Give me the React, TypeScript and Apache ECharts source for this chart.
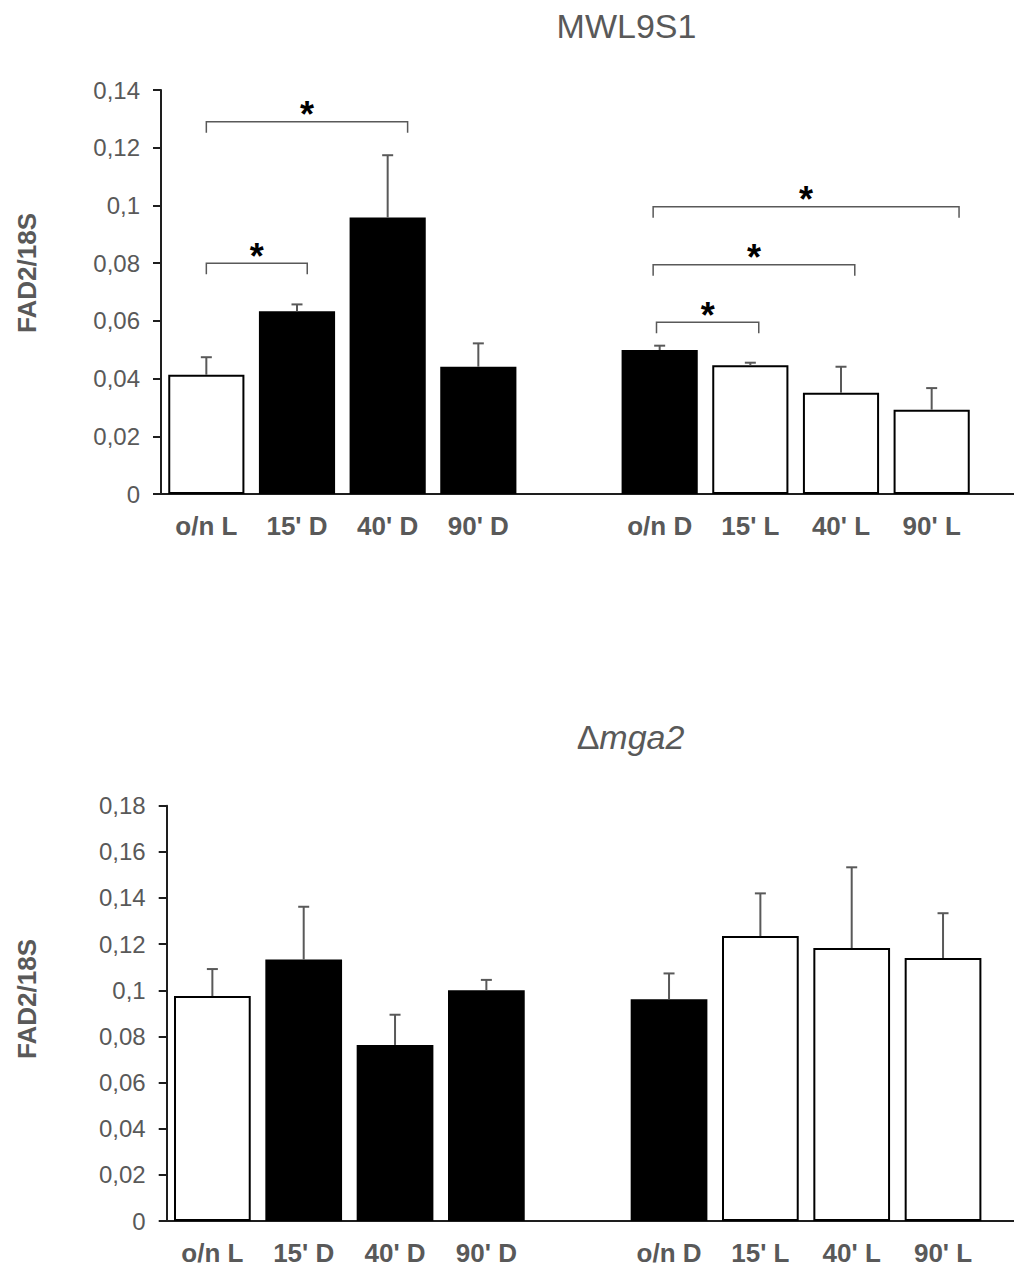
import React, { useEffect, useRef } from 'react';
import * as echarts from 'echarts';

const FONT = '"Liberation Sans", Arial, Helvetica, sans-serif';

const categories = ["o/n L", "15' D", "40' D", "90' D", "", "o/n D", "15' L", "40' L", "90' L"];
const fills = ['#ffffff', '#000000', '#000000', '#000000', 'none', '#000000', '#ffffff', '#ffffff', '#ffffff'];

const topValues = [0.0413, 0.0633, 0.0958, 0.0441, null, 0.0499, 0.0446, 0.0351, 0.0292];
const topErrors = [0.0061, 0.0024, 0.0216, 0.0081, null, 0.0015, 0.0009, 0.0090, 0.0075];
const bottomValues = [0.0975, 0.1133, 0.0763, 0.1000, null, 0.0961, 0.1235, 0.1183, 0.1140];
const bottomErrors = [0.0117, 0.0229, 0.0131, 0.0045, null, 0.0112, 0.0185, 0.0350, 0.0194];

const topTickLabels = ['0', '0,02', '0,04', '0,06', '0,08', '0,1', '0,12', '0,14'];
const bottomTickLabels = ['0', '0,02', '0,04', '0,06', '0,08', '0,1', '0,12', '0,14', '0,16', '0,18'];

// significance brackets: [start, end] in category units, level in axis units
const topBracketStart = [0.0, 0.0, 4.965, 4.928, 4.928];
const topBracketEnd = [1.113, 2.22, 6.093, 7.152, 8.302];
const topBracketLevel = [0.080, 0.129, 0.0595, 0.0794, 0.0995];

const topTitle = 'MWL9S1';
const yName = 'FAD2/18S';

const AXIS_COLOR = '#1e1e1e';
const TEXT_COLOR = '#595959';

function barData(values: (number | null)[]) {
  return values.map((v, i) =>
    v == null
      ? '-'
      : { value: v, itemStyle: { color: fills[i], borderColor: '#000', borderWidth: 2 } }
  );
}

function errData(values: (number | null)[], errs: (number | null)[]) {
  const out: number[][] = [];
  values.forEach((v, i) => {
    if (v != null && errs[i] != null) out.push([i, v, errs[i] as number]);
  });
  return out;
}

function errorSeries(gi: number, values: (number | null)[], errs: (number | null)[]) {
  return {
    type: 'custom',
    xAxisIndex: gi,
    yAxisIndex: gi,
    z: 5,
    data: errData(values, errs),
    encode: { x: 0, y: 1 },
    renderItem: (params: any, api: any) => {
      const idx = api.value(0);
      const v = api.value(1);
      const e = api.value(2);
      const base = api.coord([idx, v]);
      const top = api.coord([idx, v + e]);
      const style = { stroke: '#595959', lineWidth: 2, fill: 'none' };
      return {
        type: 'group',
        children: [
          { type: 'line', shape: { x1: base[0], y1: base[1], x2: top[0], y2: top[1] }, style },
          { type: 'line', shape: { x1: top[0] - 5.5, y1: top[1], x2: top[0] + 5.5, y2: top[1] }, style },
        ],
      };
    },
  };
}

function bracketSeries() {
  const data = topBracketLevel.map((lv, i) => [0, lv, i]);
  return {
    type: 'custom',
    xAxisIndex: 0,
    yAxisIndex: 0,
    z: 6,
    data,
    encode: { x: 0, y: 1 },
    renderItem: (params: any, api: any) => {
      const k = params.dataIndex;
      const lv = topBracketLevel[k];
      const bw = api.size([1, 0])[0];
      const px = (p: number) => {
        const i = Math.round(p);
        const c = api.coord([i, lv]);
        return [c[0] + (p - i) * bw, c[1]];
      };
      const a = px(topBracketStart[k]);
      const b = px(topBracketEnd[k]);
      const drop = 11;
      return {
        type: 'group',
        children: [
          {
            type: 'polyline',
            shape: { points: [[a[0], a[1] + drop], [a[0], a[1]], [b[0], b[1]], [b[0], b[1] + drop]] },
            style: { stroke: '#595959', lineWidth: 1.5, fill: 'none' },
          },
          {
            type: 'text',
            x: (a[0] + b[0]) / 2,
            y: a[1] - 7,
            style: {
              text: '*',
              fill: '#000',
              font: `bold 36px ${FONT}`,
              align: 'center',
              verticalAlign: 'middle',
            },
          },
        ],
      };
    },
  };
}

function xAxisOf(gi: number) {
  return {
    type: 'category',
    gridIndex: gi,
    data: categories,
    axisTick: { show: false },
    axisLine: { show: true, lineStyle: { color: AXIS_COLOR, width: 2 } },
    axisLabel: {
      interval: 0,
      margin: 19,
      color: TEXT_COLOR,
      fontSize: 26,
      fontWeight: 'bold',
      fontFamily: FONT,
    },
  };
}

function yAxisOf(gi: number, max: number, labels: string[]) {
  return {
    type: 'value',
    gridIndex: gi,
    min: 0,
    max,
    interval: 0.02,
    splitLine: { show: false },
    axisLine: { show: true, lineStyle: { color: AXIS_COLOR, width: 2 } },
    axisTick: { show: true, length: 8, lineStyle: { color: AXIS_COLOR, width: 2 } },
    axisLabel: {
      margin: 21,
      color: TEXT_COLOR,
      fontSize: 24,
      fontFamily: FONT,
      formatter: (v: number) => labels[Math.round(v / 0.02)] ?? '',
    },
  };
}

export default function App() {
  const ref = useRef<HTMLDivElement>(null);
  useEffect(() => {
    if (!ref.current) return;
    const chart = echarts.init(ref.current, undefined, { renderer: 'svg' });
    chart.setOption({
      animation: false,
      backgroundColor: '#ffffff',
      grid: [
        { left: 161, top: 90, width: 816, height: 404 },
        { left: 166.7, top: 805.7, width: 822, height: 415.3 },
      ],
      xAxis: [xAxisOf(0), xAxisOf(1)],
      yAxis: [yAxisOf(0, 0.14, topTickLabels), yAxisOf(1, 0.18, bottomTickLabels)],
      series: [
        { type: 'bar', xAxisIndex: 0, yAxisIndex: 0, barWidth: '84%', data: barData(topValues), z: 3 },
        { type: 'bar', xAxisIndex: 1, yAxisIndex: 1, barWidth: '84%', data: barData(bottomValues), z: 3 },
        errorSeries(0, topValues, topErrors),
        errorSeries(1, bottomValues, bottomErrors),
        bracketSeries(),
      ],
      graphic: [
        {
          type: 'text',
          x: 626.5,
          y: 26,
          style: { text: topTitle, fill: TEXT_COLOR, font: `34px ${FONT}`, align: 'center', verticalAlign: 'middle' },
        },
        {
          type: 'text',
          x: 630.5,
          y: 737,
          style: {
            text: '{d|Δ}{i|mga2}',
            align: 'center',
            verticalAlign: 'middle',
            rich: {
              d: { fill: TEXT_COLOR, fontSize: 34, fontFamily: FONT },
              i: { fill: TEXT_COLOR, fontSize: 34, fontFamily: FONT, fontStyle: 'italic' },
            },
          },
        },
        {
          type: 'text',
          x: 27,
          y: 273,
          rotation: Math.PI / 2,
          style: { text: yName, fill: TEXT_COLOR, font: `bold 26px ${FONT}`, align: 'center', verticalAlign: 'middle' },
        },
        {
          type: 'text',
          x: 27,
          y: 999,
          rotation: Math.PI / 2,
          style: { text: yName, fill: TEXT_COLOR, font: `bold 26px ${FONT}`, align: 'center', verticalAlign: 'middle' },
        },
        {
          type: 'line',
          shape: { x1: 976, y1: 494, x2: 1014, y2: 494 },
          style: { stroke: AXIS_COLOR, lineWidth: 2 },
        },
        {
          type: 'line',
          shape: { x1: 988, y1: 1221, x2: 1014, y2: 1221 },
          style: { stroke: AXIS_COLOR, lineWidth: 2 },
        },
      ],
    });
    return () => chart.dispose();
  }, []);
  return (
    <div
      ref={ref}
      style={{ position: 'absolute', left: 0, top: 0, width: 1014, height: 1269, background: '#fff' }}
    />
  );
}
